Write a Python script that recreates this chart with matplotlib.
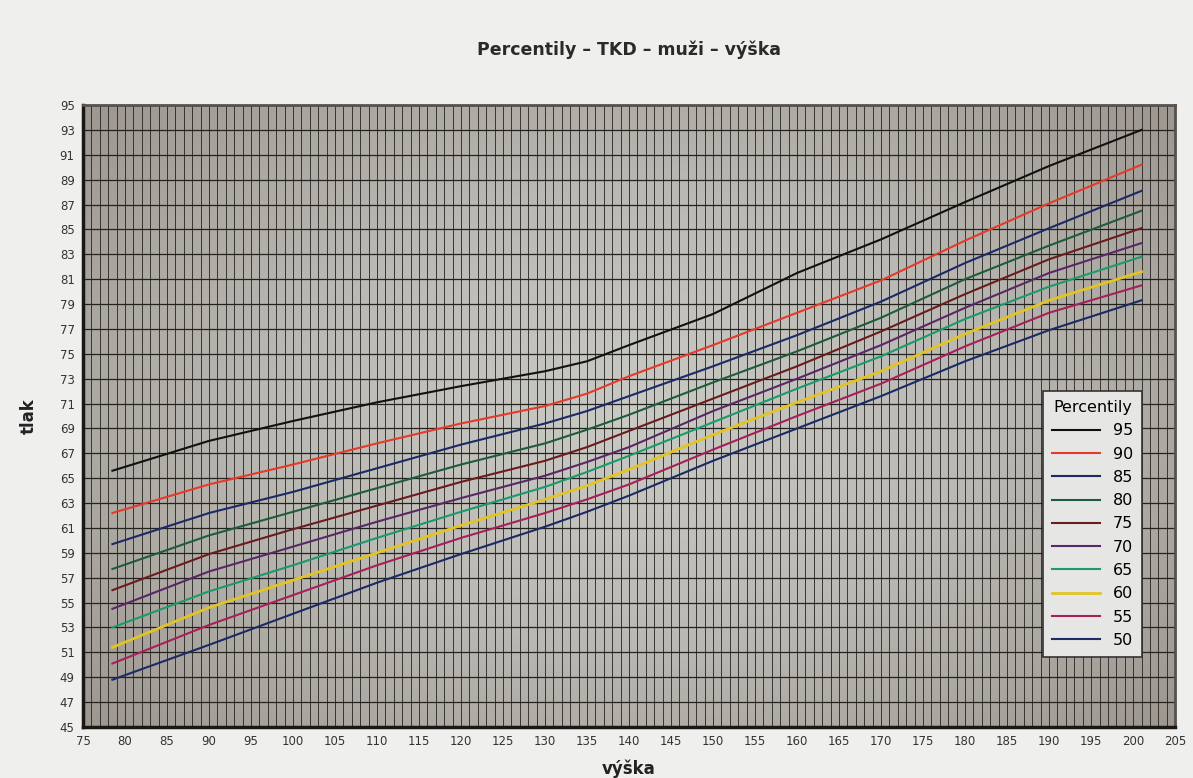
import numpy as np
import matplotlib
matplotlib.use('Agg')
import matplotlib.pyplot as plt
from matplotlib.colors import LinearSegmentedColormap

# height (cm) where the curves are sampled
vyska = [78.5, 90, 100, 110, 120, 130, 135, 140, 150, 160, 170, 180, 190, 201]

# blood pressure percentiles
p95 = [65.6, 68.0, 69.6, 71.1, 72.4, 73.6, 74.4, 75.7, 78.2, 81.5, 84.2, 87.2, 90.1, 93.0]
p90 = [62.2, 64.5, 66.1, 67.8, 69.4, 70.8, 71.8, 73.2, 75.7, 78.3, 80.9, 84.1, 87.1, 90.2]
p85 = [59.7, 62.2, 63.9, 65.8, 67.7, 69.4, 70.4, 71.6, 74.0, 76.5, 79.2, 82.3, 85.1, 88.1]
p80 = [57.7, 60.4, 62.3, 64.2, 66.1, 67.8, 68.9, 70.1, 72.7, 75.2, 77.9, 81.0, 83.7, 86.5]
p75 = [56.0, 58.9, 60.9, 62.8, 64.7, 66.4, 67.5, 68.8, 71.4, 74.0, 76.8, 79.8, 82.6, 85.1]
p70 = [54.5, 57.5, 59.5, 61.5, 63.4, 65.2, 66.3, 67.5, 70.4, 73.0, 75.7, 78.7, 81.5, 83.9]
p65 = [53.0, 55.9, 58.0, 60.2, 62.3, 64.3, 65.5, 66.8, 69.5, 72.2, 74.8, 77.8, 80.4, 82.8]
p60 = [51.4, 54.6, 56.8, 59.0, 61.2, 63.3, 64.4, 65.7, 68.5, 71.1, 73.6, 76.6, 79.3, 81.6]
p55 = [50.1, 53.2, 55.6, 58.0, 60.2, 62.2, 63.3, 64.5, 67.3, 70.0, 72.6, 75.6, 78.3, 80.5]
p50 = [48.8, 51.6, 54.1, 56.6, 58.9, 61.1, 62.3, 63.6, 66.4, 69.0, 71.6, 74.4, 76.9, 79.3]

labels = ['95', '90', '85', '80', '75', '70', '65', '60', '55', '50']
series = [p95, p90, p85, p80, p75, p70, p65, p60, p55, p50]
colors = ['#111111', '#e63a2c', '#1c2a66', '#1f5c3c', '#6b1c1c',
          '#5a2866', '#1c9a6c', '#e2c424', '#a82058', '#1c2a66']

fig = plt.figure(figsize=(11.93, 7.78), dpi=100, facecolor='#efefee')
ax = fig.add_axes([0.0696, 0.0656, 0.9154, 0.7994])

# greyish paper background, lighter in the middle
gx, gy = np.meshgrid(np.linspace(-1, 1, 300), np.linspace(-1, 1, 200))
r = np.sqrt((gx * 0.9) ** 2 + (gy * 0.8) ** 2)
bg = LinearSegmentedColormap.from_list('bg', ['#cacac5', '#bab8b3', '#9d9790'])
ax.imshow(r, cmap=bg, vmin=0, vmax=1.2, extent=[75, 205, 45, 95],
          aspect='auto', zorder=0, interpolation='bilinear')

for vals, lab, col in zip(series, labels, colors):
    lw = 2.0 if lab == '60' else 1.5
    ax.plot(vyska, vals, color=col, lw=lw, label=lab, zorder=3)

ax.set_xlim(75, 205)
ax.set_ylim(45, 95)
ax.set_xticks(np.arange(75, 206, 5))
ax.set_yticks(np.arange(45, 96, 2))
ax.set_xticks(np.arange(75, 206, 1), minor=True)
ax.grid(which='major', axis='y', color='#24221f', lw=0.9, zorder=1)
ax.grid(which='major', axis='x', color='#24221f', lw=0.6, zorder=1)
ax.grid(which='minor', axis='x', color='#24221f', lw=0.6, zorder=1)
ax.tick_params(which='both', length=0, labelsize=8.5, labelcolor='#333333', pad=6)

for side in ['left', 'bottom']:
    ax.spines[side].set_linewidth(2.5)
    ax.spines[side].set_color('#1a1816')
for side in ['top', 'right']:
    ax.spines[side].set_linewidth(2)
    ax.spines[side].set_color('#55524e')

ax.set_title('Percentily – TKD – muži – výška', fontsize=12.5, fontweight='bold',
             color='#2a2a2a', pad=36)
ax.set_xlabel('výška', fontsize=12, fontweight='bold', color='#222222', labelpad=8)
ax.set_ylabel('tlak', fontsize=12, fontweight='bold', color='#222222', labelpad=16)

leg = ax.legend(title='Percentily', loc='lower right', bbox_to_anchor=(0.977, 0.1),
                fontsize=11.5, title_fontsize=11.5, handlelength=3.0,
                labelspacing=0.52, frameon=True, fancybox=False,
                facecolor='#e6e6e4', edgecolor='#333333', framealpha=1,
                borderpad=0.55)
leg.get_frame().set_linewidth(1.2)
leg.set_zorder(5)

fig.savefig('out.png', dpi=100, facecolor=fig.get_facecolor())
